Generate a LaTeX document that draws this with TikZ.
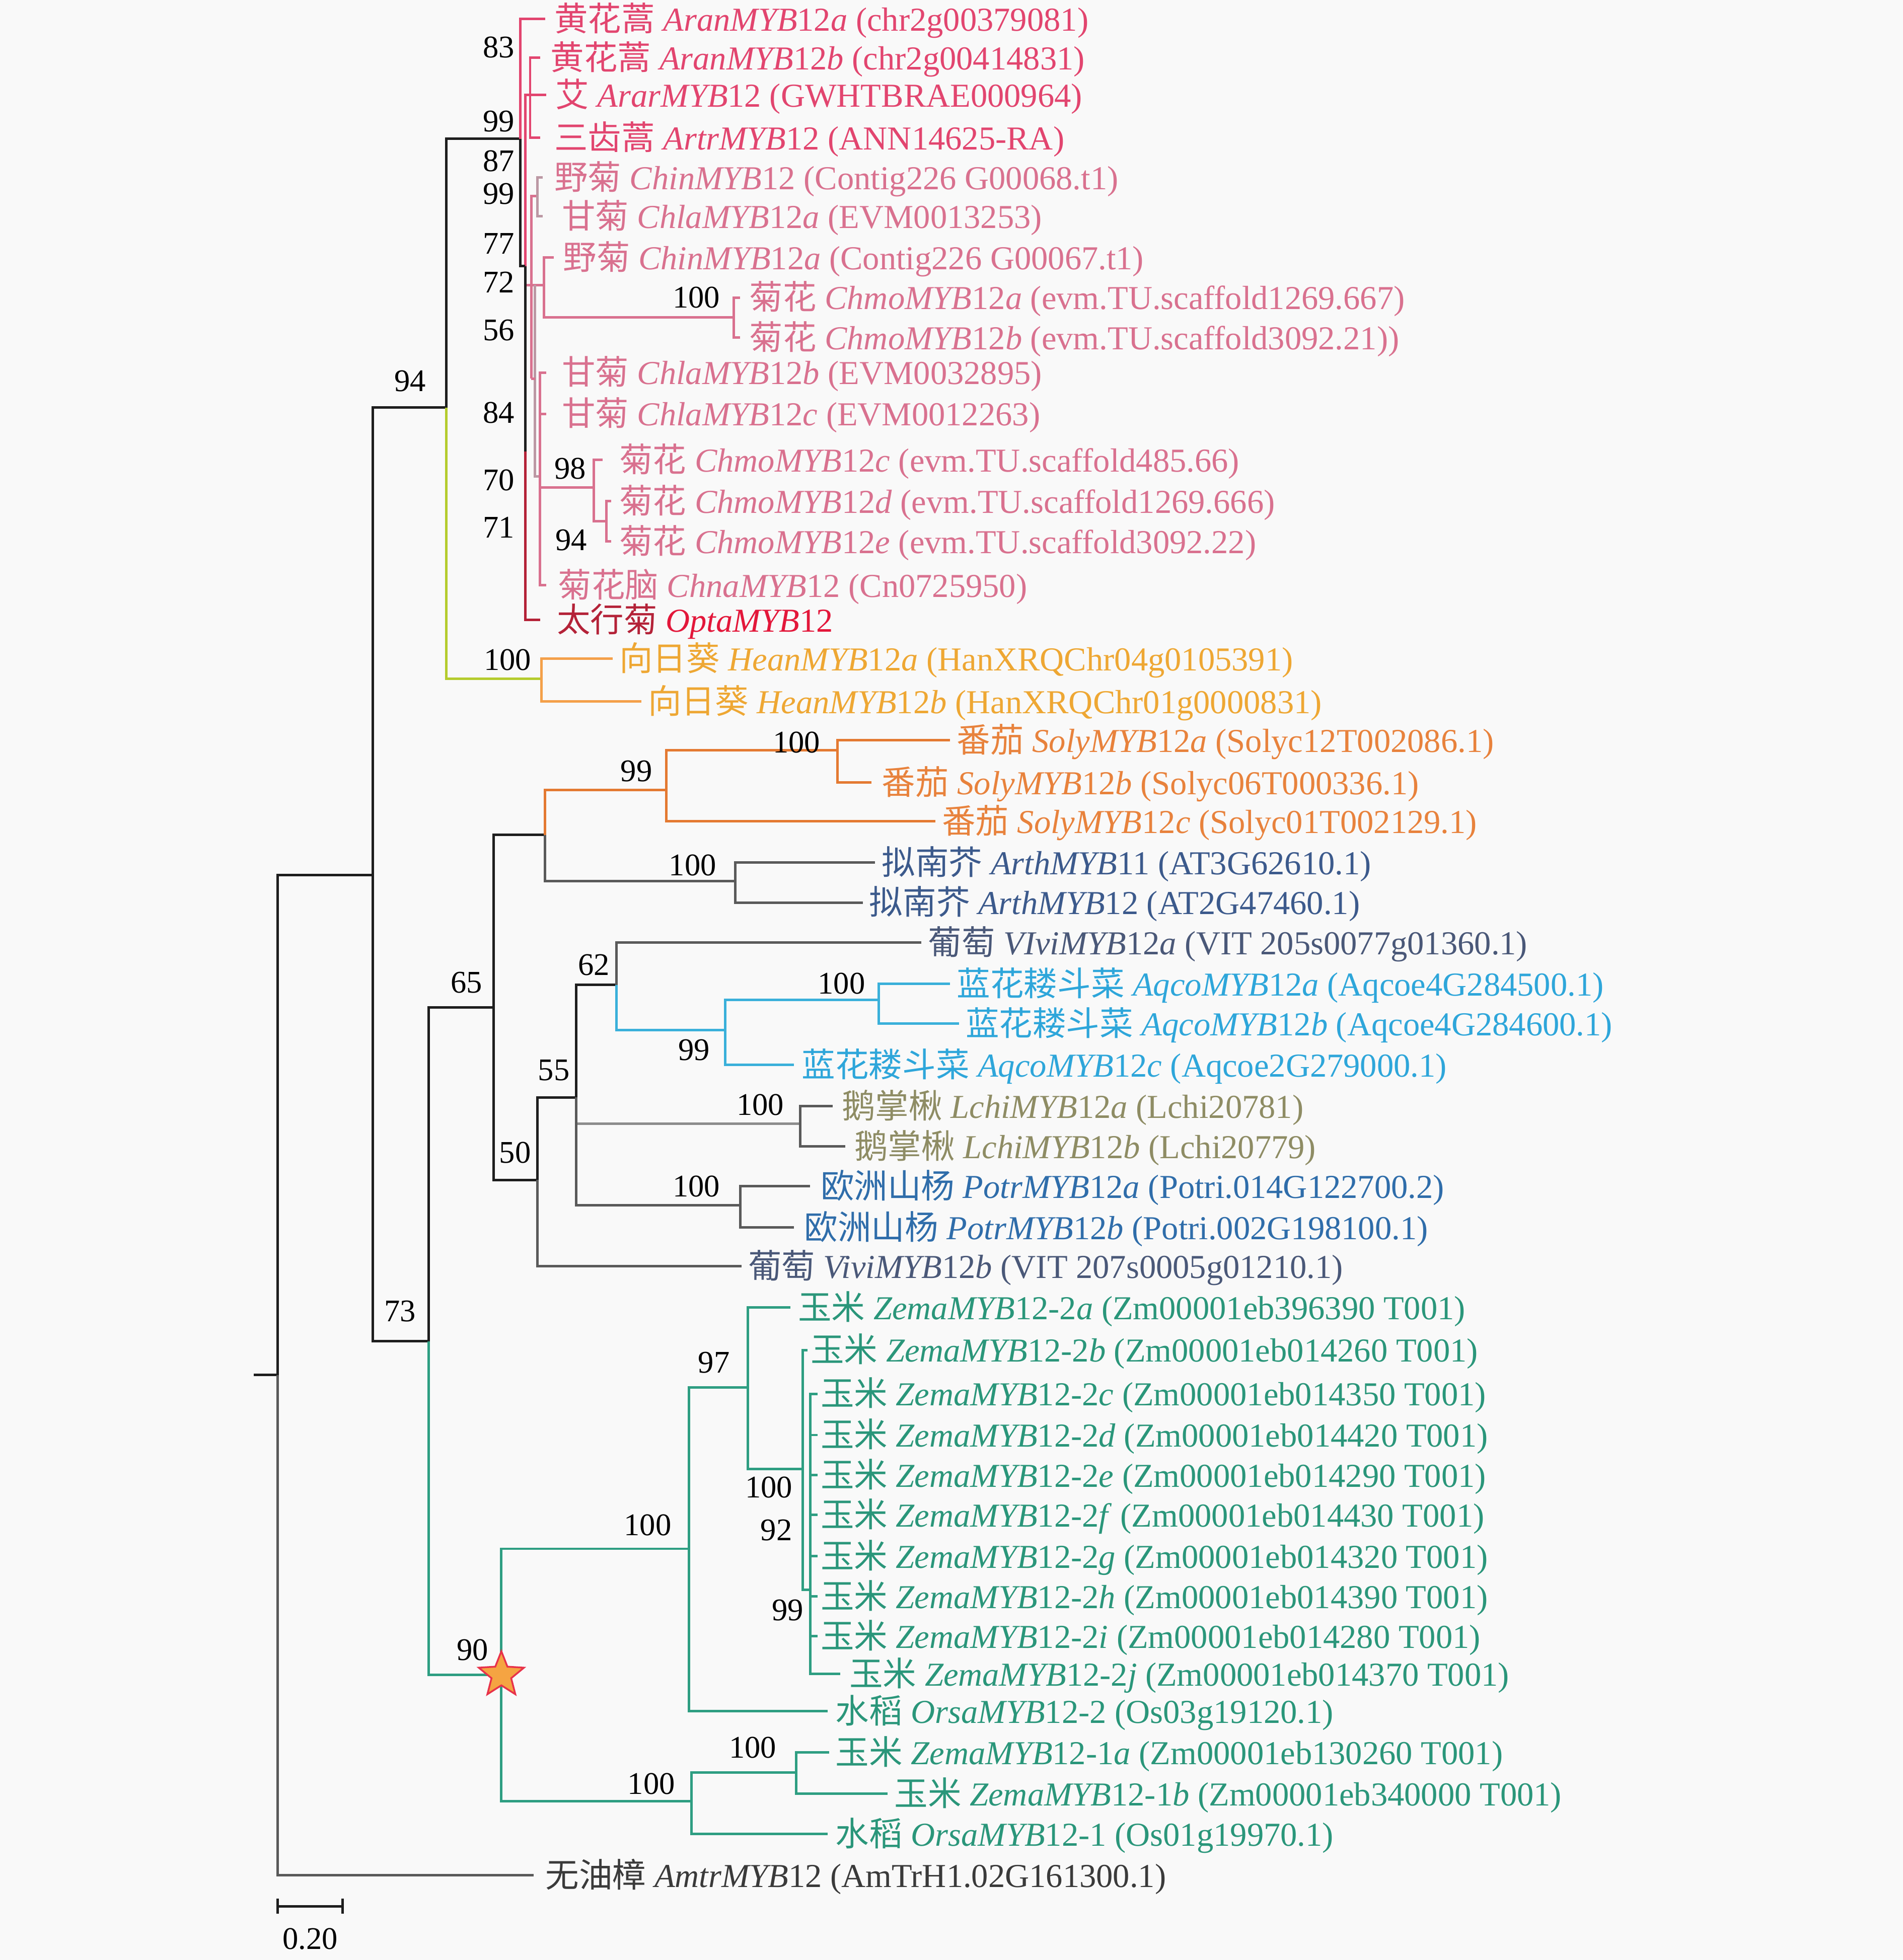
\documentclass[tikz,border=0pt]{standalone}
\usepackage{fontspec}
\setmainfont{Liberation Serif}
\newfontfamily\zhf{Noto Sans CJK SC}
\usetikzlibrary{shapes.geometric}
\definecolor{bgc}{HTML}{F9F9F9}
\definecolor{blk}{HTML}{1E1E1E}
\definecolor{artP}{HTML}{E2456F}
\definecolor{chrP}{HTML}{D9718F}
\definecolor{chrG}{HTML}{BC98A4}
\definecolor{optR}{HTML}{E3173A}
\definecolor{optD}{HTML}{B42238}
\definecolor{heaT}{HTML}{EEA733}
\definecolor{heaL}{HTML}{F4A04A}
\definecolor{ygr}{HTML}{B5CC2E}
\definecolor{solT}{HTML}{E8823C}
\definecolor{solL}{HTML}{E47A32}
\definecolor{arhT}{HTML}{3C5A8C}
\definecolor{gryL}{HTML}{5A5A5A}
\definecolor{vivT}{HTML}{4A5878}
\definecolor{aqT}{HTML}{2EA6DA}
\definecolor{aqL}{HTML}{3AB0DA}
\definecolor{lchT}{HTML}{8E8C64}
\definecolor{lchL}{HTML}{8C8C8C}
\definecolor{potT}{HTML}{2F6DAA}
\definecolor{zemT}{HTML}{2A967A}
\definecolor{zemL}{HTML}{2E9E82}
\definecolor{amtT}{HTML}{3A3A3A}
\definecolor{starF}{HTML}{F5A442}
\definecolor{starD}{HTML}{E8324A}
\newcommand\zhs[1]{{\zhf #1}}
\newcommand\gn[3]{\textit{#1}#2\textit{#3}}
\newcommand\tedge[3][blk]{\draw[br,#1] (#2) |- (#3);}
\begin{document}
\begin{tikzpicture}[x=0.5pt,y=-0.5pt,
  br/.style={line width=1pt},
  lab/.style={font=\fontsize{13.4}{15}\selectfont, anchor=west, inner sep=0pt, text height=11pt, text depth=1.4pt},
  bs/.style={font=\fontsize{12.6}{14}\selectfont, inner sep=0pt, text=black}]
\fill[bgc] (0,0) rectangle (1522,1568);
\useasboundingbox (0,0) rectangle (1522,1568);

% ---------- internal nodes ----------
\coordinate (r0) at (203,1100);
\coordinate (r) at (222,1100);
\coordinate (A) at (298,700);
\coordinate (B) at (357,326);
\coordinate (C) at (343,1073);
\coordinate (D) at (416,111);
\coordinate (X1) at (420,213);
\coordinate (E) at (424,76);
\coordinate (X2) at (420,361);
\coordinate (Y1) at (428,228);
\coordinate (Y2) at (435,228);
\coordinate (Y3) at (432,381);
\coordinate (Z) at (425,303);
\coordinate (Zj) at (428,303);
\coordinate (B87) at (430,157);
\coordinate (Cm100) at (587,254);
\coordinate (N98) at (475,390);
\coordinate (N94) at (485,417);
\coordinate (H) at (433,543);
\coordinate (P65) at (395,806);
\coordinate (P90) at (401,1340);
\coordinate (Q) at (436,668);
\coordinate (S99) at (533,632);
\coordinate (S100) at (670,600);
\coordinate (A100) at (588,705);
\coordinate (P50) at (430,944);
\coordinate (P55) at (461,878);
\coordinate (P62) at (493,788);
\coordinate (Aq99) at (580,824);
\coordinate (Aq100) at (703,800);
\coordinate (L100) at (640,899);
\coordinate (Po100) at (592,964);
\coordinate (M100) at (551,1239);
\coordinate (M97) at (598,1110);
\coordinate (M100c) at (642,1175);
\coordinate (M92) at (648,1272);
\coordinate (M100b) at (553,1441);
\coordinate (Z1) at (637,1418);

% ---------- tip ends ----------
\coordinate (eA1) at (436,15);
\coordinate (eA2) at (432,46);
\coordinate (eAr) at (437,76);
\coordinate (eAt) at (432,110);
\coordinate (eCi) at (434,142);
\coordinate (eCla) at (434,173);
\coordinate (eCia) at (443,206);
\coordinate (eCma) at (592,238);
\coordinate (eCmb) at (592,270);
\coordinate (eClb) at (437,298);
\coordinate (eClc) at (437,331);
\coordinate (eCmc) at (482,368);
\coordinate (eCmd) at (489,401);
\coordinate (eCme) at (489,433);
\coordinate (eCn) at (437,468);
\coordinate (eOp) at (432,496);
\coordinate (eHa) at (490,527);
\coordinate (eHb) at (513,561);
\coordinate (eSa) at (760,592);
\coordinate (eSb) at (697,626);
\coordinate (eSc) at (748,657);
\coordinate (eT11) at (700,690);
\coordinate (eT12) at (690,722);
\coordinate (eVa) at (737,754);
\coordinate (eQa) at (760,787);
\coordinate (eQb) at (767,819);
\coordinate (eQc) at (635,852);
\coordinate (eLa) at (666,885);
\coordinate (eLb) at (676,917);
\coordinate (ePa) at (648,949);
\coordinate (ePb) at (635,982);
\coordinate (eVb) at (593,1013);
\coordinate (eZa) at (632,1046);
\coordinate (eZb) at (646,1080);
\coordinate (eZc) at (654,1115);
\coordinate (eZd) at (654,1148);
\coordinate (eZe) at (654,1180);
\coordinate (eZf) at (654,1212);
\coordinate (eZg) at (654,1245);
\coordinate (eZh) at (654,1277);
\coordinate (eZi) at (654,1309);
\coordinate (eZj) at (672,1339);
\coordinate (eO2) at (662,1369);
\coordinate (eY1a) at (663,1402);
\coordinate (eY1b) at (710,1435);
\coordinate (eO1) at (662,1467);
\coordinate (eAm) at (427,1500);

% ---------- branches ----------
\draw[br,blk] (r0) -- (r);
\tedge{r}{A}
\tedge[gryL]{r}{eAm}
\tedge{A}{B}
\tedge{A}{C}
\tedge{B}{D}
\tedge[ygr]{B}{H}
\tedge[heaL]{H}{eHa}
\tedge[heaL]{H}{eHb}
% top cluster
\tedge[artP]{D}{eA1}
\tedge[artP]{X1}{E}
\tedge{D}{X1}
\tedge[artP]{E}{eA2}
\tedge[artP]{E}{eAr}
\tedge[artP]{E}{eAt}
\tedge[chrP]{X1}{Y1}
\tedge[chrP]{Y1}{Y2}
\tedge[chrP]{Y2}{eCia}
\tedge[chrP]{Y2}{Cm100}
\tedge[chrP]{Cm100}{eCma}
\tedge[chrP]{Cm100}{eCmb}
\tedge[chrG]{Y1}{Y3}
\draw[br,chrP] (Z) -- (Zj);
\tedge[chrP]{Z}{B87}
\tedge[chrG]{B87}{eCi}
\tedge[chrG]{B87}{eCla}
\tedge[chrP]{Y3}{eClb}
\tedge[chrP]{Y3}{eClc}
\tedge[chrP]{Y3}{N98}
\tedge[chrP]{Y3}{eCn}
\tedge[chrP]{N98}{eCmc}
\tedge[chrP]{N98}{N94}
\tedge[chrP]{N94}{eCmd}
\tedge[chrP]{N94}{eCme}
\tedge[optD]{X2}{eOp}
\tedge{X1}{X2}
% eudicots
\tedge{C}{P65}
\tedge[zemL]{C}{P90}
\tedge{P65}{Q}
\tedge{P65}{P50}
\tedge[solL]{Q}{S99}
\tedge[gryL]{Q}{A100}
\tedge[solL]{S99}{S100}
\tedge[solL]{S99}{eSc}
\tedge[solL]{S100}{eSa}
\tedge[solL]{S100}{eSb}
\tedge[gryL]{A100}{eT11}
\tedge[gryL]{A100}{eT12}
\tedge{P50}{P55}
\tedge[gryL]{P50}{eVb}
\tedge{P55}{P62}
\tedge[lchL]{P55}{L100}
\tedge[gryL]{P55}{Po100}
\tedge[gryL]{P62}{eVa}
\tedge[aqL]{P62}{Aq99}
\tedge[aqL]{Aq99}{Aq100}
\tedge[aqL]{Aq99}{eQc}
\tedge[aqL]{Aq100}{eQa}
\tedge[aqL]{Aq100}{eQb}
\tedge[gryL]{L100}{eLa}
\tedge[gryL]{L100}{eLb}
\tedge[gryL]{Po100}{ePa}
\tedge[gryL]{Po100}{ePb}
% monocots
\tedge[zemL]{P90}{M100}
\tedge[zemL]{P90}{M100b}
\tedge[zemL]{M100}{M97}
\tedge[zemL]{M100}{eO2}
\tedge[zemL]{M97}{eZa}
\tedge[zemL]{M97}{M100c}
\tedge[zemL]{M100c}{eZb}
\tedge[zemL]{M100c}{M92}
\foreach \t in {eZc,eZd,eZe,eZf,eZg,eZh,eZi,eZj}{\tedge[zemL]{M92}{\t}}
\tedge[zemL]{M100b}{Z1}
\tedge[zemL]{M100b}{eO1}
\tedge[zemL]{Z1}{eY1a}
\tedge[zemL]{Z1}{eY1b}

\node[star, star points=5, star point ratio=2.3, minimum size=19pt, inner sep=0pt, fill=starF, draw=starD, line width=0.7pt] (star) at (P90) {};

% ---------- tip labels ----------
\node[lab,text=artP] (t1) at (443,15) {\zhs{黄花蒿} \gn{AranMYB}{12}{a} (chr2g00379081)};
\node[lab,text=artP] (t2) at (440,46) {\zhs{黄花蒿} \gn{AranMYB}{12}{b} (chr2g00414831)};
\node[lab,text=artP] (t3) at (444,76) {\zhs{艾} \gn{ArarMYB}{12}{} (GWHTBRAE000964)};
\node[lab,text=artP] (t4) at (443,110) {\zhs{三齿蒿} \gn{ArtrMYB}{12}{} (ANN14625-RA)};
\node[lab,text=chrP] (t5) at (443,142) {\zhs{野菊} \gn{ChinMYB}{12}{} (Contig226 G00068.t1)};
\node[lab,text=chrP] (t6) at (449,173) {\zhs{甘菊} \gn{ChlaMYB}{12}{a} (EVM0013253)};
\node[lab,text=chrP] (t7) at (450,206) {\zhs{野菊} \gn{ChinMYB}{12}{a} (Contig226 G00067.t1)};
\node[lab,text=chrP] (t8) at (599,238) {\zhs{菊花} \gn{ChmoMYB}{12}{a} (evm.TU.scaffold1269.667)};
\node[lab,text=chrP] (t9) at (599,270) {\zhs{菊花} \gn{ChmoMYB}{12}{b} (evm.TU.scaffold3092.21))};
\node[lab,text=chrP] (t10) at (449,298) {\zhs{甘菊} \gn{ChlaMYB}{12}{b} (EVM0032895)};
\node[lab,text=chrP] (t11) at (449,331) {\zhs{甘菊} \gn{ChlaMYB}{12}{c} (EVM0012263)};
\node[lab,text=chrP] (t12) at (495,368) {\zhs{菊花} \gn{ChmoMYB}{12}{c} (evm.TU.scaffold485.66)};
\node[lab,text=chrP] (t13) at (495,401) {\zhs{菊花} \gn{ChmoMYB}{12}{d} (evm.TU.scaffold1269.666)};
\node[lab,text=chrP] (t14) at (495,433) {\zhs{菊花} \gn{ChmoMYB}{12}{e} (evm.TU.scaffold3092.22)};
\node[lab,text=chrP] (t15) at (446,468) {\zhs{菊花脑} \gn{ChnaMYB}{12}{} (Cn0725950)};
\node[lab,text=optR] (t16) at (445,496) {\textcolor{optD}{\zhs{太行菊}} \gn{OptaMYB}{12}{}};
\node[lab,text=heaT] (t17) at (495,527) {\zhs{向日葵} \gn{HeanMYB}{12}{a} (HanXRQChr04g0105391)};
\node[lab,text=heaT] (t18) at (518,561) {\zhs{向日葵} \gn{HeanMYB}{12}{b} (HanXRQChr01g0000831)};
\node[lab,text=solT] (t19) at (765,592) {\zhs{番茄} \gn{SolyMYB}{12}{a} (Solyc12T002086.1)};
\node[lab,text=solT] (t20) at (705,626) {\zhs{番茄} \gn{SolyMYB}{12}{b} (Solyc06T000336.1)};
\node[lab,text=solT] (t21) at (753,657) {\zhs{番茄} \gn{SolyMYB}{12}{c} (Solyc01T002129.1)};
\node[lab,text=arhT] (t22) at (705,690) {\zhs{拟南芥} \gn{ArthMYB}{11}{} (AT3G62610.1)};
\node[lab,text=arhT] (t23) at (695,722) {\zhs{拟南芥} \gn{ArthMYB}{12}{} (AT2G47460.1)};
\node[lab,text=vivT] (t24) at (742,754) {\zhs{葡萄} \gn{VIviMYB}{12}{a} (VIT 205s0077g01360.1)};
\node[lab,text=aqT] (t25) at (765,787) {\zhs{蓝花耧斗菜} \gn{AqcoMYB}{12}{a} (Aqcoe4G284500.1)};
\node[lab,text=aqT] (t26) at (772,819) {\zhs{蓝花耧斗菜} \gn{AqcoMYB}{12}{b} (Aqcoe4G284600.1)};
\node[lab,text=aqT] (t27) at (641,852) {\zhs{蓝花耧斗菜} \gn{AqcoMYB}{12}{c} (Aqcoe2G279000.1)};
\node[lab,text=lchT] (t28) at (673,885) {\zhs{鹅掌楸} \gn{LchiMYB}{12}{a} (Lchi20781)};
\node[lab,text=lchT] (t29) at (683,917) {\zhs{鹅掌楸} \gn{LchiMYB}{12}{b} (Lchi20779)};
\node[lab,text=potT] (t30) at (656,949) {\zhs{欧洲山杨} \gn{PotrMYB}{12}{a} (Potri.014G122700.2)};
\node[lab,text=potT] (t31) at (643,982) {\zhs{欧洲山杨} \gn{PotrMYB}{12}{b} (Potri.002G198100.1)};
\node[lab,text=vivT] (t32) at (598,1013) {\zhs{葡萄} \gn{ViviMYB}{12}{b} (VIT 207s0005g01210.1)};
\node[lab,text=zemT] (t33) at (638,1046) {\zhs{玉米} \gn{ZemaMYB}{12-2}{a} (Zm00001eb396390 T001)};
\node[lab,text=zemT] (t34) at (648,1080) {\zhs{玉米} \gn{ZemaMYB}{12-2}{b} (Zm00001eb014260 T001)};
\node[lab,text=zemT] (t35) at (656,1115) {\zhs{玉米} \gn{ZemaMYB}{12-2}{c} (Zm00001eb014350 T001)};
\node[lab,text=zemT] (t36) at (656,1148) {\zhs{玉米} \gn{ZemaMYB}{12-2}{d} (Zm00001eb014420 T001)};
\node[lab,text=zemT] (t37) at (656,1180) {\zhs{玉米} \gn{ZemaMYB}{12-2}{e} (Zm00001eb014290 T001)};
\node[lab,text=zemT] (t38) at (656,1212) {\zhs{玉米} \gn{ZemaMYB}{12-2}{f} (Zm00001eb014430 T001)};
\node[lab,text=zemT] (t39) at (656,1245) {\zhs{玉米} \gn{ZemaMYB}{12-2}{g} (Zm00001eb014320 T001)};
\node[lab,text=zemT] (t40) at (656,1277) {\zhs{玉米} \gn{ZemaMYB}{12-2}{h} (Zm00001eb014390 T001)};
\node[lab,text=zemT] (t41) at (656,1309) {\zhs{玉米} \gn{ZemaMYB}{12-2}{i} (Zm00001eb014280 T001)};
\node[lab,text=zemT] (t42) at (679,1339) {\zhs{玉米} \gn{ZemaMYB}{12-2}{j} (Zm00001eb014370 T001)};
\node[lab,text=zemT] (t43) at (668,1369) {\zhs{水稻} \gn{OrsaMYB}{12-2}{} (Os03g19120.1)};
\node[lab,text=zemT] (t44) at (668,1402) {\zhs{玉米} \gn{ZemaMYB}{12-1}{a} (Zm00001eb130260 T001)};
\node[lab,text=zemT] (t45) at (715,1435) {\zhs{玉米} \gn{ZemaMYB}{12-1}{b} (Zm00001eb340000 T001)};
\node[lab,text=zemT] (t46) at (668,1467) {\zhs{水稻} \gn{OrsaMYB}{12-1}{} (Os01g19970.1)};
\node[lab,text=amtT] (t47) at (436,1500) {\zhs{无油樟} \gn{AmtrMYB}{12}{} (AmTrH1.02G161300.1)};

% ---------- bootstrap values ----------
\node[bs] (b1) at (399,38) {83};
\node[bs] (b2) at (399,97) {99};
\node[bs] (b3) at (399,129) {87};
\node[bs] (b4) at (399,155) {99};
\node[bs] (b5) at (399,195) {77};
\node[bs] (b6) at (399,226) {72};
\node[bs] (b7) at (399,264) {56};
\node[bs] (b8) at (399,330) {84};
\node[bs] (b9) at (399,384) {70};
\node[bs] (b10) at (399,422) {71};
\node[bs] (b11) at (557,238) {100};
\node[bs] (b12) at (456,375) {98};
\node[bs] (b13) at (457,432) {94};
\node[bs] (b14) at (328,305) {94};
\node[bs] (b15) at (406,528) {100};
\node[bs] (b16) at (637,594) {100};
\node[bs] (b17) at (509,617) {99};
\node[bs] (b18) at (554,692) {100};
\node[bs] (b19) at (373,786) {65};
\node[bs] (b20) at (475,772) {62};
\node[bs] (b21) at (673,787) {100};
\node[bs] (b22) at (555,840) {99};
\node[bs] (b23) at (443,856) {55};
\node[bs] (b24) at (608,884) {100};
\node[bs] (b25) at (412,922) {50};
\node[bs] (b26) at (557,949) {100};
\node[bs] (b27) at (320,1049) {73};
\node[bs] (b28) at (571,1090) {97};
\node[bs] (b29) at (615,1190) {100};
\node[bs] (b30) at (621,1224) {92};
\node[bs] (b31) at (630,1288) {99};
\node[bs] (b32) at (518,1220) {100};
\node[bs] (b33) at (378,1320) {90};
\node[bs] (b34) at (602,1398) {100};
\node[bs] (b35) at (521,1427) {100};

% ---------- scale bar ----------
\coordinate (sb1) at (222,1525);
\coordinate (sb2) at (274,1525);
\draw[br,blk] (sb1) -- (sb2);
\draw[br,blk] ([yshift=3pt]sb1) -- ([yshift=-3pt]sb1);
\draw[br,blk] ([yshift=3pt]sb2) -- ([yshift=-3pt]sb2);
\node[bs] (sbl) at (248,1551) {0.20};
\end{tikzpicture}
\end{document}
